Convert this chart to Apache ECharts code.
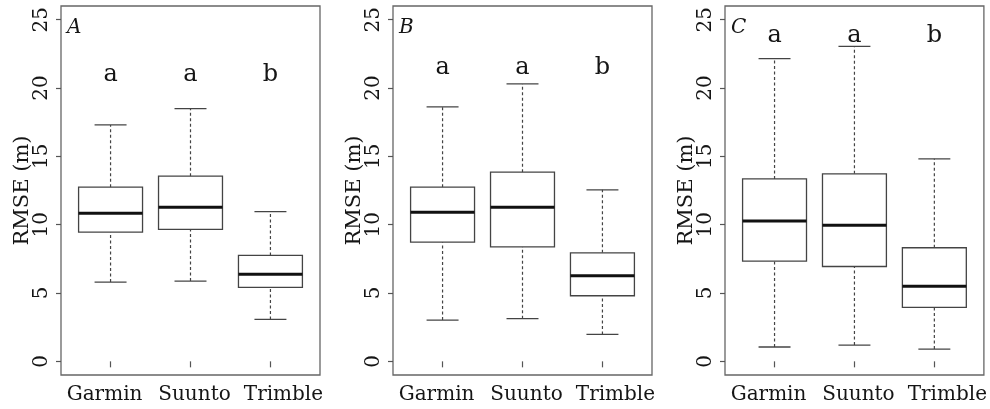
<!DOCTYPE html>
<html>
<head>
<meta charset="utf-8">
<script src="https://cdn.jsdelivr.net/npm/echarts@6/dist/echarts.min.js"></script>
<style>
html,body{margin:0;padding:0;background:#fff;}
#chart{width:990px;height:409px;}
</style>
</head>
<body>
<div id="chart"></div>
<script>
// ---- data ----
const categories = ['Garmin', 'Suunto', 'Trimble'];
const panelNames = ['A', 'B', 'C'];
const yTicks = [0, 5, 10, 15, 20, 25];
const letters = ['a', 'a', 'b'];
const letterY = [21, 21.5, 23.8];

const aMin = [5.8, 5.87, 3.07];
const aQ1 = [9.45, 9.65, 5.41];
const aMed = [10.84, 11.28, 6.38];
const aQ3 = [12.74, 13.55, 7.75];
const aMax = [17.3, 18.49, 10.96];

const bMin = [3.02, 3.12, 1.97];
const bQ1 = [8.72, 8.38, 4.8];
const bMed = [10.91, 11.28, 6.26];
const bQ3 = [12.74, 13.84, 7.94];
const bMax = [18.62, 20.3, 12.55];

const cMin = [1.05, 1.19, 0.9];
const cQ1 = [7.33, 6.94, 3.95];
const cMed = [10.26, 9.96, 5.5];
const cQ3 = [13.35, 13.72, 8.31];
const cMax = [22.15, 23.05, 14.82];

const panels = [
  [aMin, aQ1, aMed, aQ3, aMax],
  [bMin, bQ1, bMed, bQ3, bMax],
  [cMin, cQ1, cMed, cQ3, cMax]
];

// ---- layout ----
const FONT = 'DejaVu Serif';
const TEXT = '#151515';
const gridLefts = [61, 393, 725];
const gridTop = 6, gridW = 259, gridH = 369;

const labelBase = { fontFamily: FONT, fontSize: 20, color: TEXT };
const richLabels = {
  c0: Object.assign({ padding: [0, 12, 0, 0] }, labelBase),
  c1: Object.assign({ padding: [0, 0, 0, 8] }, labelBase),
  c2: Object.assign({ padding: [0, 0, 0, 26] }, labelBase)
};

const grids = [], xAxes = [], yAxes = [], series = [], graphics = [];

panels.forEach((p, i) => {
  grids.push({
    left: gridLefts[i], top: gridTop, width: gridW, height: gridH,
    show: true, borderColor: '#666', borderWidth: 1.3, backgroundColor: 'transparent'
  });
  xAxes.push({
    gridIndex: i, type: 'value', min: 0.38, max: 3.62,
    axisLine: { show: false },
    splitLine: { show: false },
    axisTick: { show: true, customValues: [1, 2, 3], length: 6, lineStyle: { color: '#555', width: 1.2 } },
    axisLabel: {
      customValues: [1, 2, 3], margin: 10,
      formatter: v => { const k = Math.round(v) - 1; return '{c' + k + '|' + categories[k] + '}'; },
      fontFamily: FONT, fontSize: 20, color: TEXT,
      rich: richLabels
    }
  });
  yAxes.push({
    gridIndex: i, type: 'value', min: -1, max: 26,
    name: 'RMSE (m)', nameLocation: 'middle', nameRotate: 90, nameGap: 28,
    nameMoveOverlap: false,
    nameTextStyle: { fontFamily: FONT, fontSize: 21, color: TEXT },
    axisLine: { show: false },
    splitLine: { show: false },
    axisTick: { show: true, customValues: yTicks, length: 5, lineStyle: { color: '#555', width: 1.2 } },
    axisLabel: {
      customValues: yTicks, rotate: 90, margin: 9,
      fontFamily: FONT, fontSize: 20, color: TEXT
    }
  });
  const data = categories.map((c, k) => [k + 1, p[0][k], p[1][k], p[2][k], p[3][k], p[4][k]]);
  series.push({
    type: 'custom', xAxisIndex: i, yAxisIndex: i,
    encode: { x: 0, y: [1, 2, 3, 4, 5] },
    data: data,
    silent: true,
    renderItem: (params, api) => {
      const x = api.value(0);
      const pLo = api.coord([x, api.value(1)]);
      const pQ1 = api.coord([x, api.value(2)]);
      const pMd = api.coord([x, api.value(3)]);
      const pQ3 = api.coord([x, api.value(4)]);
      const pHi = api.coord([x, api.value(5)]);
      const bw = api.size([0.8, 0])[0];
      const cw = api.size([0.4, 0])[0];
      const cx = pMd[0];
      const dash = { stroke: '#444', lineWidth: 1.2, lineDash: [3, 2.5] };
      const solid = { stroke: '#444', lineWidth: 1.3 };
      return {
        type: 'group',
        children: [
          { type: 'line', shape: { x1: cx, y1: pQ3[1], x2: cx, y2: pHi[1] }, style: dash },
          { type: 'line', shape: { x1: cx, y1: pLo[1], x2: cx, y2: pQ1[1] }, style: dash },
          { type: 'line', shape: { x1: cx - cw / 2, y1: pHi[1], x2: cx + cw / 2, y2: pHi[1] }, style: solid },
          { type: 'line', shape: { x1: cx - cw / 2, y1: pLo[1], x2: cx + cw / 2, y2: pLo[1] }, style: solid },
          { type: 'rect', shape: { x: cx - bw / 2, y: pQ3[1], width: bw, height: pQ1[1] - pQ3[1] },
            style: { fill: '#fff', stroke: '#444', lineWidth: 1.3 } },
          { type: 'line', shape: { x1: cx - bw / 2, y1: pMd[1], x2: cx + bw / 2, y2: pMd[1] },
            style: { stroke: '#111', lineWidth: 3 } }
        ]
      };
    }
  });
  series.push({
    type: 'custom', xAxisIndex: i, yAxisIndex: i,
    data: letters.map((l, k) => [k + 1, letterY[i]]),
    silent: true,
    renderItem: (params, api) => {
      const pt = api.coord([api.value(0), api.value(1)]);
      return {
        type: 'text',
        style: {
          text: letters[params.dataIndex], x: pt[0], y: pt[1],
          align: 'center', verticalAlign: 'middle',
          font: '24px "' + FONT + '"', fill: TEXT
        }
      };
    }
  });
  graphics.push({
    type: 'text', left: gridLefts[i] + 6, top: 18,
    style: { text: panelNames[i], font: 'italic 20px "' + FONT + '"', fill: TEXT }
  });
});

const chart = echarts.init(document.getElementById('chart'), null, { renderer: 'canvas' });
chart.setOption({
  backgroundColor: '#fff',
  animation: false,
  grid: grids,
  xAxis: xAxes,
  yAxis: yAxes,
  series: series,
  graphic: graphics
});
</script>
</body>
</html>
